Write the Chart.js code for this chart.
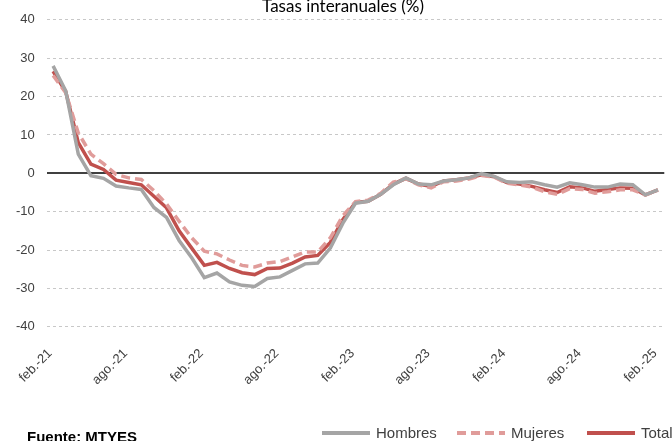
<!DOCTYPE html>
<html>
<head>
<meta charset="utf-8">
<script src="https://cdn.jsdelivr.net/npm/chart.js@4"></script>
<style>
	html, body { margin: 0; padding: 0; background: #fff; overflow: hidden; }
	#wrap { position: relative; width: 672px; height: 441px; }
</style>
</head>
<body>
<div id="wrap"><canvas id="chart" width="672" height="441"></canvas></div>
<script>
const months = [
	"feb.-21", "mar.-21", "abr.-21", "may.-21", "jun.-21", "jul.-21", "ago.-21", "sep.-21", "oct.-21", "nov.-21", "dic.-21",
	"ene.-22", "feb.-22", "mar.-22", "abr.-22", "may.-22", "jun.-22", "jul.-22", "ago.-22", "sep.-22", "oct.-22", "nov.-22", "dic.-22",
	"ene.-23", "feb.-23", "mar.-23", "abr.-23", "may.-23", "jun.-23", "jul.-23", "ago.-23", "sep.-23", "oct.-23", "nov.-23", "dic.-23",
	"ene.-24", "feb.-24", "mar.-24", "abr.-24", "may.-24", "jun.-24", "jul.-24", "ago.-24", "sep.-24", "oct.-24", "nov.-24", "dic.-24",
	"ene.-25", "feb.-25"
]

const hombres = [
	28, 21.5, 5, -0.6, -1.3, -3.3, -3.8, -4.2, -8.9, -11.5, -17.5,
	-22, -27.2, -26, -28.3, -29.2, -29.5, -27.4, -27, -25.3, -23.6, -23.4, -19.5,
	-13, -7.8, -7.3, -5.5, -3, -1.2, -2.8, -3, -2, -1.7, -1.2, -0.1,
	-0.8, -2.2, -2.4, -2.2, -3, -3.6, -2.5, -3, -3.6, -3.6, -2.8, -3,
	-5.6, -4.3
]

const mujeres = [
	25.5, 21, 10.5, 5, 2.5, -0.3, -1.2, -1.6, -4.5, -8, -12.5,
	-16.8, -20.3, -21, -22.6, -24, -24.4, -23.4, -23, -21.8, -20.5, -20.5, -16.8,
	-11, -7.4, -7, -5.2, -2.3, -1.4, -3, -3.8, -2.2, -2, -1.5, -0.6,
	-1, -2.6, -3, -3.6, -4.8, -5.5, -4, -4.2, -5.2, -4.8, -4.3, -4.3,
	-5.7, -4.4
]

const total = [
	26.6, 21.3, 8, 2.4, 1, -1.8, -2.4, -3, -6, -9, -15,
	-19.5, -24, -23.2, -24.8, -25.9, -26.4, -24.8, -24.7, -23.4, -21.8, -21.4, -18,
	-12, -7.6, -7.3, -5.5, -2.8, -1.3, -2.8, -3.4, -2, -1.7, -1.2, -0.4,
	-0.9, -2.4, -2.8, -3.4, -4.3, -5, -3.5, -3.8, -4.7, -4.2, -3.8, -3.9,
	-5.6, -4.3
]

const sans = "'Liberation Sans', Arial, sans-serif"

// leyenda y fuente dibujadas a mano, abajo (la leyenda se corta en el borde como en el original)
const footer = {
	id: "footer",
	afterDraw(chart) {
		const ctx = chart.ctx
		const y = 433
		const items = [
			{ ds: chart.data.datasets[0], x: 322 },
			{ ds: chart.data.datasets[1], x: 457 },
			{ ds: chart.data.datasets[2], x: 587 }
		]
		ctx.save()
		items.forEach(it => {
			ctx.beginPath()
			ctx.strokeStyle = it.ds.borderColor
			ctx.lineWidth = 4
			ctx.setLineDash(it.ds.borderDash || [])
			ctx.moveTo(it.x, y)
			ctx.lineTo(it.x + 48, y)
			ctx.stroke()
			ctx.setLineDash([])
			ctx.fillStyle = "#404040"
			ctx.font = "15px " + sans
			ctx.textBaseline = "middle"
			ctx.textAlign = "left"
			ctx.fillText(it.ds.label, it.x + 54, y + 1)
		})
		ctx.fillStyle = "#000"
		ctx.font = "bold 15px " + sans
		ctx.textBaseline = "alphabetic"
		ctx.fillText("Fuente: MTYES", 27, 442)
		ctx.restore()
	}
}

const chart = new Chart(document.getElementById("chart"), {
	type: "line",
	data: {
		labels: months,
		datasets: [{
			label: "Hombres",
			data: hombres,
			borderColor: "#A5A5A5",
			borderWidth: 3.5,
			pointRadius: 0,
			tension: 0
		}, {
			label: "Mujeres",
			data: mujeres,
			borderColor: "#E09C9A",
			borderDash: [9, 5],
			borderWidth: 3.5,
			pointRadius: 0,
			tension: 0
		}, {
			label: "Total",
			data: total,
			borderColor: "#C0504D",
			borderWidth: 3.5,
			pointRadius: 0,
			tension: 0
		}]
	},
	options: {
		responsive: false,
		animation: false,
		layout: { padding: { left: 4, right: -10, top: 0, bottom: 50 } },
		scales: {
			x: {
				offset: true,
				grid: {
					display: true,
					drawOnChartArea: false,
					drawTicks: true,
					tickLength: 16,
					tickColor: "rgba(0,0,0,0)"
				},
				border: { display: false },
				ticks: {
					autoSkip: false,
					maxRotation: 45,
					minRotation: 45,
					color: "#404040",
					font: { size: 13, family: sans },
					padding: 3,
					labelOffset: -3,
					callback: function (v, i) { return i % 6 === 0 ? this.getLabelForValue(v) : "" }
				}
			},
			y: {
				min: -40,
				max: 40,
				border: {
					display: false,
					dash: ctx => (ctx.tick && ctx.tick.value === 0) ? [] : [3, 3]
				},
				grid: {
					drawTicks: false,
					color: ctx => (ctx.tick && ctx.tick.value === 0) ? "#404040" : "#C8C8C8",
					lineWidth: ctx => (ctx.tick && ctx.tick.value === 0) ? 2 : 1
				},
				ticks: {
					stepSize: 10,
					padding: 12,
					color: "#404040",
					font: { size: 13, family: sans }
				}
			}
		},
		plugins: {
			legend: { display: false },
			tooltip: { enabled: false },
			title: {
				display: true,
				text: "Tasas interanuales (%)",
				color: "#000",
				font: { size: 17, family: "Lato", weight: "normal" },
				padding: { top: -11, bottom: 3 }
			}
		}
	},
	plugins: [footer]
})
</script>
</body>
</html>
